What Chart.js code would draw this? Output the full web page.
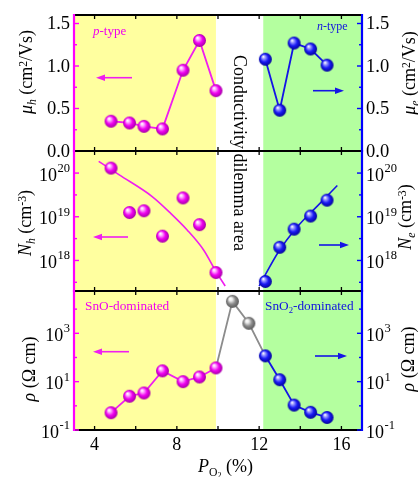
<!DOCTYPE html>
<html><head><meta charset="utf-8">
<script src="https://cdn.jsdelivr.net/npm/chart.js@4.4.0/dist/chart.umd.min.js"></script>
<style>
html,body{margin:0;padding:0;background:#fff;}
#wrap{position:relative;width:418px;height:477px;overflow:hidden;background:#fff;}
#wrap canvas{position:absolute;left:0;top:0;}
.tx{position:absolute;white-space:nowrap;line-height:1;font-family:"Liberation Serif","Times New Roman",serif;}
.rot{transform:translate(-50%,-50%) rotate(-90deg);}
.sb{font-size:0.65em;position:relative;top:0.3em;}
.sp{font-size:0.65em;position:relative;top:-0.45em;}
.vert{writing-mode:vertical-rl;}
</style></head><body>
<div id="wrap">
<canvas id="c1" width="418" height="477"></canvas>
<canvas id="c2" width="418" height="477"></canvas>
<canvas id="c3" width="418" height="477"></canvas>

<div class="tx rot" style="left:26px;top:72px;font-size:18px"><i>μ<span class="sb">h</span></i> (cm<span class="sp">2</span>/Vs)</div>
<div class="tx rot" style="left:25px;top:223px;font-size:18px"><i>N<span class="sb">h</span></i> (cm<span class="sp">-3</span>)</div>
<div class="tx rot" style="left:29px;top:369px;font-size:18px"><i>ρ</i> (Ω cm)</div>
<div class="tx rot" style="left:409px;top:73px;font-size:18px"><i>μ<span class="sb">e</span></i> (cm<span class="sp">2</span>/Vs)</div>
<div class="tx rot" style="left:405px;top:217px;font-size:18px"><i>N<span class="sb">e</span></i> (cm<span class="sp">-3</span>)</div>
<div class="tx rot" style="left:408px;top:359px;font-size:18px"><i>ρ</i> (Ω cm)</div>

<div class="tx" style="left:93px;top:24px;font-size:13px;color:#F000F0"><i>p</i>-type</div>
<div class="tx" style="left:317px;top:20px;font-size:12px;color:#1010E0"><i>n</i>-type</div>
<div class="tx" style="left:85px;top:299px;font-size:13.3px;color:#F000F0">SnO-dominated</div>
<div class="tx" style="left:265px;top:299px;font-size:13.3px;color:#1010E0">SnO<span class="sb">2</span>-dominated</div>
<div class="tx vert" style="left:231px;top:55px;font-size:18px;line-height:18px;color:#000">Conductivity dilemma area</div>
<div class="tx" style="left:198px;top:457px;font-size:18px;color:#000"><i>P</i><span class="sb">O<span style="font-size:0.7em;position:relative;top:0.3em">2</span></span> (%)</div>
</div>

<script>
// ---------------- data ----------------
const pO2_p    = [4.8, 5.7, 6.4, 7.3, 8.3, 9.1, 9.9];
const pO2_gray = [9.9, 10.7, 11.5, 12.3];
const pO2_n    = [12.3, 13.0, 13.7, 14.5, 15.3];

const mu_h = [0.35, 0.33, 0.29, 0.26, 0.95, 1.30, 0.71];
const mu_e = [1.08, 0.48, 1.27, 1.20, 1.01];

const N_h = [1.3e20, 1.25e19, 1.37e19, 3.6e18, 2.7e19, 6.6e18, 5.3e17];
const N_e = [3.3e17, 2.0e18, 5.2e18, 1.04e19, 2.4e19];
const fitH_x = [4.2, 5.2, 6.8, 7.7, 8.5, 9.3, 9.9, 10.35];
const fitH_N = [1.86e20, 9.1e19, 2.9e19, 1.2e19, 5.0e18, 1.74e18, 5.6e17, 2.6e17];
const fitE_x = [12.0, 12.95, 13.9, 14.85, 15.8];
const fitE_N = [2.6e17, 1.6e18, 6.2e18, 1.8e19, 5.2e19];

const rho_p    = [0.52, 2.5, 3.4, 28, 10, 15.6, 37];
const rho_gray = [37, 2.1e4, 2.6e3, 117];
const rho_n    = [117, 12, 1.07, 0.54, 0.33];

// ticks
const xTickVals  = [4, 6, 8, 10, 12, 14, 16];
const xLabelVals = [4, 8, 12, 16];
const muTicks  = [0, 0.5, 1.0, 1.5];
const muLabels = ['0.0', '0.5', '1.0', '1.5'];
const muMinor  = [0.25, 0.75, 1.25];
const nTicks   = [1e18, 1e19, 1e20];
const nExps    = ['18', '19', '20'];
const nMinor   = [Math.pow(10,17.5), Math.pow(10,18.5), Math.pow(10,19.5)];
const rhoTicks = [0.1, 10, 1000];
const rhoExps  = ['-1', '1', '3'];
const rhoMinor = [1, 100, 10000];

const yellowRange = [3, 9.9];
const greenRange  = [12.2, 17];

// ---------------- styles ----------------
const MAG = '#F01EF0', BLU = '#1414E6', GRY = '#8C8C8C';
const MAG_AX = '#FF00FF', BLU_AX = '#0000FF';
const YEL = '#FFFF9F', GRN = '#B4FF9F';
const FONT = '"Liberation Serif","Times New Roman",serif';

function sphere(base, light, dark) {
  const c = document.createElement('canvas');
  c.width = c.height = 15;
  const g = c.getContext('2d');
  const grd = g.createRadialGradient(5.3, 4.8, 0.3, 7.5, 7.5, 7);
  grd.addColorStop(0, '#ffffff');
  grd.addColorStop(0.2, light);
  grd.addColorStop(0.55, base);
  grd.addColorStop(1, dark);
  g.fillStyle = grd;
  g.beginPath(); g.arc(7.5, 7.5, 6.5, 0, Math.PI * 2); g.fill();
  return c;
}
const sM = sphere('#F000F0', '#FFB0FF', '#9A009A');
const sB = sphere('#1A1AF5', '#A0A0FF', '#00008C');
const sG = sphere('#8E8E8E', '#F0F0F0', '#505050');

const pts = (xs, ys) => xs.map((x, i) => ({x: x, y: ys[i]}));

function ds(xs, ys, axis, color, sprite, extra) {
  return Object.assign({
    data: pts(xs, ys), yAxisID: axis, borderColor: color, backgroundColor: color,
    borderWidth: 1.8, pointStyle: sprite, pointRadius: 6, tension: 0
  }, extra || {});
}

function arrow(ctx, x1, y, x2, color) {
  ctx.save();
  ctx.strokeStyle = color; ctx.fillStyle = color; ctx.lineWidth = 1.6;
  const dir = Math.sign(x2 - x1);
  ctx.beginPath(); ctx.moveTo(x1, y); ctx.lineTo(x2 - dir * 6, y); ctx.stroke();
  ctx.beginPath(); ctx.moveTo(x2, y); ctx.lineTo(x2 - dir * 9, y - 3.2); ctx.lineTo(x2 - dir * 9, y + 3.2); ctx.closePath(); ctx.fill();
  ctx.restore();
}

function drawLin(ctx, scale, vals, labels, side, a) {
  ctx.font = '18.5px ' + FONT; ctx.fillStyle = '#000'; ctx.textBaseline = 'middle';
  vals.forEach((v, i) => {
    const y = scale.getPixelForValue(v);
    if (side === 'left') { ctx.textAlign = 'right'; ctx.fillText(labels[i], a.left - 4, y + 1); }
    else { ctx.textAlign = 'left'; ctx.fillText(labels[i], a.right + 4, y + 1); }
  });
}
function drawPow(ctx, scale, vals, exps, side, a) {
  const BIG = '18px ' + FONT, SMALL = '12.5px ' + FONT;
  ctx.fillStyle = '#000'; ctx.textAlign = 'left'; ctx.textBaseline = 'alphabetic';
  vals.forEach((v, i) => {
    const y = scale.getPixelForValue(v);
    ctx.font = BIG; const w1 = ctx.measureText('10').width;
    ctx.font = SMALL; const w2 = ctx.measureText(exps[i]).width;
    const x0 = side === 'left' ? a.left - 4 - w1 - w2 - 0.5 : a.right + 4;
    ctx.font = BIG; ctx.fillText('10', x0, y + 7.5);
    ctx.font = SMALL; ctx.fillText(exps[i], x0 + w1 + 0.5, y - 1);
  });
}

function decor(o) {
  return {
    id: 'decor',
    beforeDatasetsDraw(chart) {
      const {ctx, chartArea: a} = chart; const x = chart.scales.x;
      ctx.save();
      ctx.fillStyle = YEL;
      let x0 = x.getPixelForValue(yellowRange[0]), x1 = x.getPixelForValue(yellowRange[1]);
      ctx.fillRect(x0, a.top, x1 - x0, a.bottom - a.top);
      ctx.fillStyle = GRN;
      x0 = x.getPixelForValue(greenRange[0]); x1 = x.getPixelForValue(greenRange[1]);
      ctx.fillRect(x0, a.top, x1 - x0, a.bottom - a.top);
      ctx.restore();
    },
    afterDatasetsDraw(chart) {
      const {ctx, chartArea: a} = chart; const x = chart.scales.x;
      const yl = chart.scales.yl, yr = chart.scales.yr;
      ctx.save();
      ctx.strokeStyle = '#000'; ctx.lineWidth = 1.3;
      xTickVals.forEach(v => {
        const px = x.getPixelForValue(v);
        ctx.beginPath(); ctx.moveTo(px, a.top); ctx.lineTo(px, a.top + 4);
        ctx.moveTo(px, a.bottom); ctx.lineTo(px, a.bottom - 4); ctx.stroke();
      });
      ctx.lineWidth = 2;
      ctx.beginPath(); ctx.moveTo(a.left, a.top); ctx.lineTo(a.right, a.top);
      ctx.moveTo(a.left, a.bottom); ctx.lineTo(a.right, a.bottom); ctx.stroke();
      const yt = (scale, vals, len, side, color) => {
        ctx.strokeStyle = color; ctx.lineWidth = 1.4;
        vals.forEach(v => {
          const py = scale.getPixelForValue(v);
          ctx.beginPath();
          if (side === 'left') { ctx.moveTo(a.left, py); ctx.lineTo(a.left + len, py); }
          else { ctx.moveTo(a.right, py); ctx.lineTo(a.right - len, py); }
          ctx.stroke();
        });
      };
      yt(yl, o.major, 5, 'left', MAG_AX); yt(yl, o.minor, 3, 'left', MAG_AX);
      yt(yr, o.major, 5, 'right', BLU_AX); yt(yr, o.minor, 3, 'right', BLU_AX);
      ctx.lineWidth = 2.2;
      ctx.strokeStyle = MAG_AX; ctx.beginPath(); ctx.moveTo(a.left, a.top - 1); ctx.lineTo(a.left, a.bottom + 1); ctx.stroke();
      ctx.strokeStyle = BLU_AX; ctx.beginPath(); ctx.moveTo(a.right, a.top - 1); ctx.lineTo(a.right, a.bottom + 1); ctx.stroke();
      o.labels(ctx, yl, 'left', a); o.labels(ctx, yr, 'right', a);
      o.arrows.forEach(r => arrow(ctx, r[0], r[1], r[2], r[3]));
      ctx.restore();
    }
  };
}

const common = {
  display: true, ticks: {display: false}, grid: {display: false, drawTicks: false},
  border: {display: false}, title: {display: false}
};
function yScale(type, min, max, side) {
  return Object.assign({}, common, {
    type: type, min: min, max: max, position: side,
    afterFit: s => { s.width = side === 'left' ? 74 : 56; }
  });
}
function xScale(show) {
  const s = {
    type: 'linear', min: 3, max: 17, display: show, position: 'bottom',
    grid: {display: false, drawTicks: false}, border: {display: false},
    ticks: {display: true, color: '#000', font: {family: 'Liberation Serif', size: 18}, padding: 4, autoSkip: false, maxRotation: 0},
    afterBuildTicks: sc => { sc.ticks = xLabelVals.map(v => ({value: v})); }
  };
  if (show) s.afterFit = sc => { sc.height = 47; };
  else s.afterFit = sc => { sc.height = 0; };
  return s;
}
function opts(padTop, padBottom, yl, yr, showX) {
  return {
    responsive: false, animation: false, events: [], devicePixelRatio: 1,
    layout: {autoPadding: false, padding: {top: padTop, bottom: padBottom, left: 0, right: 0}},
    plugins: {legend: {display: false}, tooltip: {enabled: false}},
    scales: {x: xScale(showX), yl: yl, yr: yr}
  };
}

// ---------------- panel 1: mobility ----------------
new Chart(document.getElementById('c1'), {
  type: 'line',
  data: {datasets: [
    ds(pO2_p, mu_h, 'yl', MAG, sM),
    ds(pO2_n, mu_e, 'yr', BLU, sB)
  ]},
  options: opts(15, 326, yScale('linear', 0, 1.6, 'left'), yScale('linear', 0, 1.6, 'right'), false),
  plugins: [decor({
    major: muTicks, minor: muMinor,
    labels: (ctx, s, side, a) => drawLin(ctx, s, muTicks, muLabels, side, a),
    arrows: [[132, 77.7, 96, MAG], [313, 90.7, 344, BLU]]
  })]
});

// ---------------- panel 2: carrier concentration ----------------
new Chart(document.getElementById('c2'), {
  type: 'line',
  data: {datasets: [
    ds(pO2_p, N_h, 'yl', MAG, sM, {showLine: false}),
    ds(pO2_n, N_e, 'yr', BLU, sB, {showLine: false}),
    ds(fitH_x, fitH_N, 'yl', MAG, false, {pointRadius: 0, cubicInterpolationMode: 'monotone', borderWidth: 1.6}),
    ds(fitE_x, fitE_N, 'yr', BLU, false, {pointRadius: 0, cubicInterpolationMode: 'monotone', borderWidth: 1.6})
  ]},
  options: opts(151, 186, yScale('logarithmic', 2e17, 3.2e20, 'left'), yScale('logarithmic', 2e17, 3.2e20, 'right'), false),
  plugins: [decor({
    major: nTicks, minor: nMinor,
    labels: (ctx, s, side, a) => drawPow(ctx, s, nTicks, nExps, side, a),
    arrows: [[128, 237, 93, MAG], [319, 245, 349, BLU]]
  })]
});

// ---------------- panel 3: resistivity ----------------
const RHO_MAX = Math.pow(10, 4.75);
new Chart(document.getElementById('c3'), {
  type: 'line',
  data: {datasets: [
    ds(pO2_p, rho_p, 'yl', MAG, sM),
    ds(pO2_n, rho_n, 'yr', BLU, sB),
    ds(pO2_gray, rho_gray, 'yl', GRY, sG, {
      pointRadius: c => (c.dataIndex === 0 || c.dataIndex === pO2_gray.length - 1) ? 0 : 6
    })
  ]},
  options: opts(291, 0, yScale('logarithmic', 0.1, RHO_MAX, 'left'), yScale('logarithmic', 0.1, RHO_MAX, 'right'), true),
  plugins: [decor({
    major: rhoTicks, minor: rhoMinor,
    labels: (ctx, s, side, a) => drawPow(ctx, s, rhoTicks, rhoExps, side, a),
    arrows: [[129, 351.7, 93, MAG], [315, 356, 347, BLU]]
  })]
});
</script>
</body></html>
